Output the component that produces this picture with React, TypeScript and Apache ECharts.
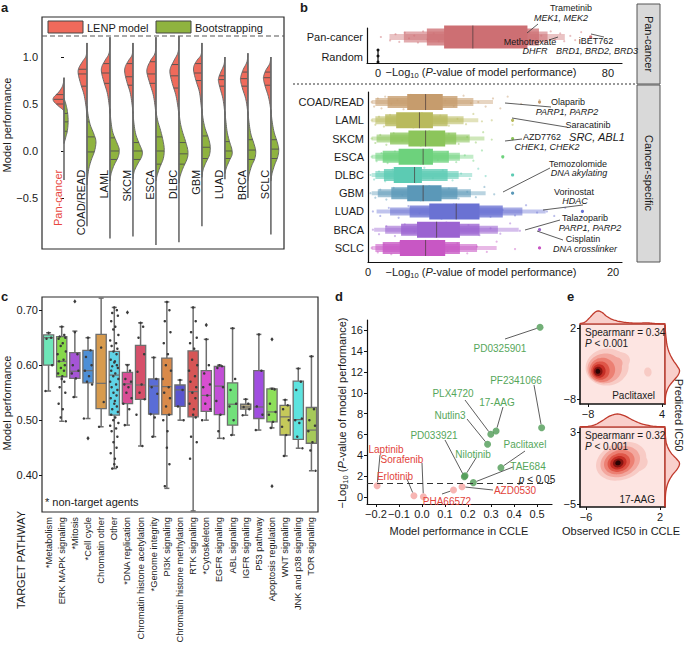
import React, { useEffect, useRef } from 'react';
import * as echarts from 'echarts';

const FONT = "'Liberation Sans', Arial, Helvetica, sans-serif";
const MINUS = '\u2212';
const fmt = (v: number, d: number) => (v < 0 ? MINUS : '') + Math.abs(v).toFixed(d);

// ================= Panel a: split violins =================
const aCategories = ['Pan-cancer', 'COAD/READ', 'LAML', 'SKCM', 'ESCA', 'DLBC', 'GBM', 'LUAD', 'BRCA', 'SCLC'];
// [value, half-width in category units]
const aLenpShape = [
  [[0.78, 0], [0.7, 0.05], [0.63, 0.22], [0.57, 0.45], [0.53, 0.45], [0.48, 0.25], [0.44, 0.05], [0.42, 0]],
  [[1.15, 0], [1.02, 0.03], [0.95, 0.2], [0.88, 0.36], [0.82, 0.38], [0.72, 0.28], [0.6, 0.13], [0.47, 0.04], [0.36, 0]],
  [[1.21, 0], [1.05, 0.03], [0.97, 0.2], [0.9, 0.35], [0.84, 0.37], [0.74, 0.27], [0.62, 0.12], [0.5, 0.04], [0.4, 0]],
  [[1.15, 0], [1.03, 0.03], [0.96, 0.2], [0.9, 0.33], [0.84, 0.36], [0.74, 0.27], [0.62, 0.12], [0.5, 0.04], [0.4, 0]],
  [[1.21, 0], [1.05, 0.03], [0.97, 0.22], [0.89, 0.37], [0.83, 0.39], [0.73, 0.28], [0.6, 0.12], [0.48, 0.04], [0.38, 0]],
  [[1.22, 0], [1.06, 0.03], [0.97, 0.2], [0.89, 0.36], [0.83, 0.39], [0.72, 0.29], [0.6, 0.14], [0.48, 0.05], [0.38, 0]],
  [[1.15, 0], [1.03, 0.03], [0.97, 0.2], [0.91, 0.34], [0.85, 0.36], [0.75, 0.26], [0.63, 0.11], [0.5, 0.04], [0.4, 0]],
  [[1.0, 0], [0.92, 0.04], [0.84, 0.18], [0.78, 0.27], [0.74, 0.28], [0.66, 0.2], [0.56, 0.09], [0.46, 0.03], [0.38, 0]],
  [[1.04, 0], [0.95, 0.04], [0.87, 0.2], [0.8, 0.3], [0.75, 0.32], [0.66, 0.23], [0.56, 0.1], [0.46, 0.03], [0.38, 0]],
  [[1.0, 0], [0.93, 0.05], [0.86, 0.22], [0.8, 0.31], [0.76, 0.32], [0.68, 0.24], [0.58, 0.11], [0.48, 0.03], [0.4, 0]],
];
const aBootShape = [
  [[0.56, 0], [0.5, 0.08], [0.42, 0.15], [0.32, 0.18], [0.22, 0.15], [0.14, 0.07], [0.08, 0]],
  [[0.48, 0], [0.38, 0.05], [0.28, 0.14], [0.18, 0.3], [0.1, 0.39], [0.0, 0.33], [-0.1, 0.18], [-0.2, 0.07], [-0.3, 0.02], [-0.36, 0]],
  [[0.45, 0], [0.32, 0.04], [0.2, 0.12], [0.1, 0.28], [0.02, 0.4], [-0.06, 0.36], [-0.15, 0.18], [-0.24, 0.05], [-0.32, 0]],
  [[0.42, 0], [0.3, 0.04], [0.18, 0.12], [0.08, 0.27], [0.0, 0.4], [-0.06, 0.38], [-0.14, 0.2], [-0.22, 0.05], [-0.3, 0]],
  [[0.42, 0], [0.32, 0.08], [0.22, 0.2], [0.12, 0.3], [0.02, 0.36], [-0.08, 0.32], [-0.18, 0.16], [-0.26, 0.05], [-0.32, 0]],
  [[0.42, 0], [0.3, 0.06], [0.2, 0.16], [0.1, 0.29], [0.0, 0.39], [-0.08, 0.36], [-0.18, 0.18], [-0.27, 0.05], [-0.34, 0]],
  [[0.45, 0], [0.34, 0.05], [0.24, 0.14], [0.14, 0.28], [0.05, 0.36], [-0.04, 0.33], [-0.12, 0.18], [-0.2, 0.05], [-0.28, 0]],
  [[0.42, 0], [0.32, 0.04], [0.2, 0.1], [0.1, 0.2], [0.02, 0.3], [-0.04, 0.31], [-0.1, 0.2], [-0.18, 0.06], [-0.24, 0]],
  [[0.42, 0], [0.3, 0.05], [0.18, 0.13], [0.08, 0.26], [0.0, 0.34], [-0.08, 0.3], [-0.16, 0.16], [-0.25, 0.05], [-0.32, 0]],
  [[0.44, 0], [0.32, 0.05], [0.2, 0.14], [0.1, 0.27], [0.02, 0.34], [-0.06, 0.3], [-0.15, 0.16], [-0.24, 0.05], [-0.32, 0]],
];
const aLenpQuartiles = [[0.6, 0.55, 0.5], [0.87, 0.82, 0.69], [0.93, 0.83, 0.72], [0.93, 0.79, 0.7], [0.95, 0.82, 0.72], [0.92, 0.8, 0.67], [0.93, 0.83, 0.75], [0.8, 0.76, 0.69], [0.84, 0.77, 0.69], [0.84, 0.78, 0.7]];
const aBootQuartiles = [[0.4, 0.31, 0.21], [0.31, 0.15, -0.01], [0.14, 0.0, -0.09], [0.09, 0.0, -0.09], [0.15, 0.0, -0.14], [0.09, -0.03, -0.14], [0.16, 0.04, -0.08], [0.1, 0.0, -0.08], [0.12, 0.01, -0.09], [0.12, 0.02, -0.08]];
const aLineRange = [[0.78, -0.31], [1.15, -0.8], [1.21, -0.93], [1.15, -0.91], [1.21, -1.0], [1.22, -0.97], [1.15, -0.8], [1.0, -0.3], [1.04, -0.5], [1.0, -0.89]];
const aTicks = [-0.5, 0, 0.5, 1.0];

// ================= Panel b: letter-value plots =================
const bTopRows = ['Pan-cancer', 'Random'];
const bPanBoxes = [[23, 52], [17, 56], [9, 59], [4, 65]];
const bPanMedian = 33;
const bPanPoints = [1.0, 4.2, 6.1, 7.4, 9.3, 10.8, 12.6, 13.9, 15.7, 17.2, 19.4, 21.1, 24.3, 27.6, 30.8, 35.2, 38.1, 42.4, 46.3, 49.8, 52.7, 54.9, 56.8, 58.3, 60.1, 61.7, 63.4, 64.8, 66.9, 68.6, 70.7, 74.0];
const bRandomPoints = [0, 0, 0];
const bTopTicks = [0, 80];

const bRows = ['COAD/READ', 'LAML', 'SKCM', 'ESCA', 'DLBC', 'GBM', 'LUAD', 'BRCA', 'SCLC'];
const bBoxes = [
  [[3.2, 6.1], [1.6, 7.3], [0.6, 8.6], [0.3, 10.2]],
  [[2.3, 5.3], [1.4, 6.5], [0.6, 7.8], [0.3, 9.0]],
  [[3.3, 6.3], [1.8, 7.2], [0.7, 8.3], [0.3, 9.5]],
  [[2.5, 5.3], [1.2, 6.6], [0.6, 7.5], [0.3, 8.6]],
  [[2.1, 4.4], [1.3, 6.5], [0.6, 7.4], [0.3, 8.5]],
  [[3.2, 6.0], [1.9, 7.3], [0.8, 8.4], [0.3, 9.6]],
  [[5.0, 9.1], [3.4, 11.0], [1.8, 12.6], [0.7, 14.5]],
  [[4.0, 7.5], [2.7, 9.1], [1.4, 10.6], [0.5, 12.3]],
  [[2.6, 6.3], [1.2, 7.5], [0.6, 8.9], [0.3, 10.5]],
];
const bMedians = [4.7, 4.2, 4.7, 4.5, 3.8, 4.5, 7.2, 5.6, 4.7];
const bPoints = [
  [0.3, 0.5, 0.8, 1.1, 1.4, 1.9, 2.4, 2.9, 3.5, 4.1, 4.8, 5.5, 6.3, 7.0, 7.8, 8.4, 9.0, 9.6, 10.2, 10.8, 11.4, 12.5, 14.0],
  [0.3, 0.6, 0.9, 1.3, 1.8, 2.4, 3.0, 3.7, 4.4, 5.1, 5.9, 6.6, 7.3, 8.0, 8.6, 9.3, 10.1, 11.8],
  [0.3, 0.6, 1.0, 1.5, 2.1, 2.8, 3.5, 4.3, 5.0, 5.8, 6.6, 7.4, 8.1, 8.8, 9.4, 10.1, 11.8],
  [0.3, 0.7, 1.1, 1.6, 2.2, 2.9, 3.6, 4.3, 5.0, 5.7, 6.5, 7.2, 7.9, 8.6, 9.3, 11.0],
  [0.2, 0.5, 0.9, 1.4, 2.0, 2.6, 3.2, 3.9, 4.6, 5.3, 6.1, 6.9, 7.6, 8.3, 9.0, 9.6, 11.8],
  [0.2, 0.6, 1.0, 1.5, 2.1, 2.8, 3.5, 4.3, 5.0, 5.8, 6.6, 7.4, 8.1, 8.8, 9.5, 10.3, 11.8],
  [0.4, 1.0, 1.7, 2.5, 3.3, 4.2, 5.1, 6.0, 7.0, 8.0, 9.0, 10.0, 11.0, 12.0, 12.9, 13.8, 14.6, 15.2, 16.1, 17.5],
  [0.4, 0.9, 1.5, 2.2, 3.0, 3.8, 4.6, 5.5, 6.4, 7.3, 8.2, 9.1, 10.0, 10.8, 11.6, 12.4, 14.0],
  [0.3, 0.8, 1.3, 1.9, 2.6, 3.3, 4.1, 4.9, 5.7, 6.5, 7.3, 8.1, 8.9, 9.7, 10.5, 12.0, 14.0],
];
const bBottomTicks = [0, 20];

// ================= Panel c: boxplots by pathway =================
const cPathways = ['*Metabolism', 'ERK MAPK signaling', '*Mitosis', '*Cell cycle', 'Chromatin other', 'Other', '*DNA replication',
  'Chromatin histone acetylation', '*Genome integrity', 'PI3K signaling', 'Chromatin histone methylation', 'RTK signaling',
  '*Cytoskeleton', 'EGFR signaling', 'ABL signaling', 'IGFR signaling', 'P53 pathway', 'Apoptosis regulation',
  'WNT signaling', 'JNK and p38 signaling', 'TOR signaling'];
// [min, q1, median, q3, max]
const cStats = [
  [0.553, 0.600, 0.650, 0.655, 0.659],
  [0.498, 0.579, 0.607, 0.652, 0.670],
  [0.542, 0.576, 0.589, 0.623, 0.662],
  [0.503, 0.568, 0.590, 0.627, 0.650],
  [0.488, 0.521, 0.567, 0.656, 0.722],
  [0.412, 0.509, 0.582, 0.625, 0.705],
  [0.491, 0.530, 0.566, 0.587, 0.601],
  [0.453, 0.538, 0.564, 0.636, 0.677],
  [0.470, 0.511, 0.562, 0.575, 0.614],
  [0.376, 0.510, 0.561, 0.613, 0.715],
  [0.500, 0.525, 0.555, 0.564, 0.573],
  [0.335, 0.506, 0.552, 0.626, 0.705],
  [0.500, 0.516, 0.545, 0.590, 0.647],
  [0.467, 0.510, 0.562, 0.598, 0.600],
  [0.473, 0.491, 0.529, 0.568, 0.667],
  [0.509, 0.520, 0.524, 0.529, 0.538],
  [0.482, 0.503, 0.524, 0.590, 0.656],
  [0.486, 0.497, 0.515, 0.557, 0.558],
  [0.435, 0.473, 0.506, 0.527, 0.537],
  [0.449, 0.465, 0.501, 0.571, 0.594],
  [0.408, 0.458, 0.482, 0.523, 0.616],
];
const cPoints = [
  [0.659, 0.65, 0.648, 0.6, 0.553],
  [0.67, 0.655, 0.652, 0.65, 0.648, 0.64, 0.635, 0.625, 0.62, 0.61, 0.607, 0.6, 0.595, 0.59, 0.585, 0.58, 0.575, 0.57, 0.56, 0.55, 0.53, 0.52, 0.505, 0.498],
  [0.66, 0.62, 0.6, 0.59, 0.585, 0.576, 0.542],
  [0.65, 0.627, 0.615, 0.6, 0.59, 0.58, 0.57, 0.565, 0.503],
  [0.632, 0.533, 0.488],
  [0.705, 0.7, 0.695, 0.69, 0.68, 0.67, 0.665, 0.655, 0.645, 0.64, 0.635, 0.63, 0.625, 0.62, 0.61, 0.607, 0.605, 0.6, 0.598, 0.595, 0.59, 0.585, 0.58, 0.575, 0.57, 0.565, 0.56, 0.555, 0.55, 0.545, 0.54, 0.535, 0.53, 0.525, 0.52, 0.515, 0.51, 0.505, 0.5, 0.495, 0.49, 0.485, 0.48, 0.47, 0.46, 0.45, 0.44, 0.43, 0.42, 0.415, 0.412],
  [0.6, 0.59, 0.575, 0.57, 0.565, 0.56, 0.55, 0.54, 0.53, 0.52, 0.491],
  [0.677, 0.67, 0.65, 0.62, 0.588, 0.565, 0.55, 0.538, 0.51, 0.453],
  [0.614, 0.575, 0.56, 0.548, 0.511, 0.505, 0.47],
  [0.715, 0.7, 0.68, 0.66, 0.64, 0.62, 0.6, 0.59, 0.575, 0.56, 0.55, 0.54, 0.525, 0.51, 0.5, 0.48, 0.45, 0.42, 0.38],
  [0.573, 0.555, 0.525, 0.5],
  [0.705, 0.68, 0.66, 0.65, 0.64, 0.63, 0.61, 0.6, 0.59, 0.58, 0.57, 0.56, 0.55, 0.54, 0.53, 0.52, 0.51, 0.505, 0.47, 0.46, 0.43],
  [0.647, 0.6, 0.585, 0.565, 0.56, 0.545, 0.53, 0.52, 0.5],
  [0.6, 0.598, 0.595, 0.56, 0.535, 0.51, 0.48, 0.467],
  [0.667, 0.575, 0.555, 0.53, 0.525, 0.5, 0.473],
  [0.538, 0.53, 0.524, 0.52, 0.509],
  [0.656, 0.59, 0.525, 0.51, 0.482],
  [0.557, 0.556, 0.53, 0.515, 0.51, 0.497, 0.486],
  [0.537, 0.527, 0.52, 0.5, 0.488, 0.473, 0.435],
  [0.594, 0.57, 0.555, 0.503, 0.5, 0.495, 0.47, 0.449],
  [0.616, 0.52, 0.5, 0.49, 0.48, 0.46, 0.445, 0.408],
];
const cOutliers = [[2, 0.716], [3, 0.467], [6, 0.696], [12, 0.673], [17, 0.647], [17, 0.38]];
const cTicks = [0.4, 0.5, 0.6, 0.7];

// ================= Panel d: CCLE validation scatter =================
const dDrugs = ['PD0325901', 'PF2341066', '17-AAG', 'PLX4720', 'Nutlin3', 'Paclitaxel', 'PD033921', 'Nilotinib', 'TAE684', 'Laptinib', 'Erlotinib', 'Sorafenib', 'PHA66572', 'AZD0530'];
const dPerf = [0.513, 0.52, 0.322, 0.299, 0.285, 0.343, 0.184, 0.187, 0.223, -0.195, -0.035, 0.006, 0.137, 0.174];
const dLogP = [16.3, 6.66, 6.34, 6.02, 5.06, 2.82, 1.95, 2.05, 1.38, 1.09, 0.13, 0.03, 0.67, 0.99];
const dThreshold = 1.3;
const dXTicks = [-0.2, -0.1, 0, 0.1, 0.2, 0.3, 0.4, 0.5];
const dYTicks = [0, 2, 4, 6, 8, 10, 12, 14, 16];

// ================= Panel e: density of observed vs predicted IC50 =================
// [level, cx, cy, rx, ry]
const eTopLevels = [
  [0, -4.9, -3.5, 3.5, 2.6], [0, -3.0, -2.6, 1.8, 1.2], [0, 1.7, -4.2, 0.6, 0.65],
  [1, -5.3, -3.7, 2.8, 2.1], [1, -3.6, -3.0, 1.2, 0.9],
  [2, -5.7, -3.9, 2.1, 1.7], [3, -6.0, -4.0, 1.5, 1.3], [4, -6.2, -4.05, 1.05, 0.95],
  [5, -6.35, -4.1, 0.7, 0.65], [6, -6.4, -4.1, 0.38, 0.36],
];
const eBotLevels = [
  [0, -2.2, -0.25, 2.8, 2.05], [0, -0.5, -0.5, 1.2, 0.9],
  [1, -2.3, -0.3, 2.2, 1.65], [2, -2.4, -0.35, 1.7, 1.3], [3, -2.45, -0.4, 1.25, 1.0],
  [4, -2.5, -0.42, 0.9, 0.72], [5, -2.52, -0.44, 0.58, 0.48], [6, -2.54, -0.44, 0.3, 0.26],
];
const eTopMarginalX = [[-9.3, 0.03], [-8.5, 0.15], [-7.8, 0.45], [-7.0, 0.85], [-6.4, 1.0], [-5.7, 0.88], [-5.0, 0.6], [-4.2, 0.38], [-3.4, 0.25], [-2.5, 0.16], [-1.5, 0.1], [-0.5, 0.07], [0.5, 0.07], [1.5, 0.09], [2.5, 0.05], [3.5, 0.02], [4.48, 0.01]];
const eTopMarginalY = [[0.01, 2.42], [0.03, 1.5], [0.08, 0.5], [0.15, -0.5], [0.3, -1.5], [0.55, -2.5], [0.85, -3.4], [1.0, -4.0], [0.88, -4.7], [0.55, -5.5], [0.25, -6.3], [0.08, -7.2], [0.02, -8.0], [0.0, -8.7]];
const eBotMarginalX = [[-6.65, 0.01], [-5.8, 0.05], [-5.0, 0.18], [-4.2, 0.5], [-3.4, 0.85], [-2.6, 1.0], [-1.8, 0.85], [-1.0, 0.55], [-0.2, 0.3], [0.6, 0.14], [1.4, 0.05], [2.54, 0.01]];
const eBotMarginalY = [[0.0, 3.44], [0.03, 2.5], [0.12, 1.6], [0.4, 0.7], [0.8, 0.0], [1.0, -0.5], [0.85, -1.1], [0.5, -1.8], [0.22, -2.6], [0.07, -3.5], [0.02, -4.4], [0.0, -5.33]];
const eTopXTicks = [-8, 4];
const eTopYTicks = [-8, 2];
const eBotXTicks = [-6, 2];
const eBotYTicks = [-5, 3];

// ================= styling =================
const RED = '#ef6a5b';
const GREEN = '#8fb33f';
const bPanColor = '#cd6f73';
const bColors = ['#c69c6d', '#b9ba5d', '#8cc55b', '#6dd27c', '#5ccbb3', '#5b98b8', '#6a72d3', '#9b63d1', '#c857c4'];
const cColors = ['#6ee6b8', '#86d94a', '#a555d6', '#4d8fd6', '#d79b4e', '#5fd3e6', '#d94e95', '#d6506a', '#5a6dd6', '#d98a4a', '#5a55d0', '#d65656', '#d84fd0', '#c24fd6', '#72e07a', '#b5a882', '#a04ee0', '#8ee05a', '#c5c95a', '#5de3df', '#a6c95a'];
const eLevelColors = ['#f8cbc5', '#f3a79e', '#ec8073', '#df5648', '#c52e25', '#851410', '#2a0404'];
const JIT = [0, 2.5, -2, 3.5, -3, 1, -1, 4, -4, 1.8, -2.6, 3, -0.8, 2.2, -3.5, 0.6];

function catmull(pts: number[][], seg = 5): number[][] {
  if (pts.length < 3) return pts;
  const out: number[][] = [];
  for (let i = 0; i < pts.length - 1; i++) {
    const p0 = pts[Math.max(0, i - 1)], p1 = pts[i], p2 = pts[i + 1], p3 = pts[Math.min(pts.length - 1, i + 2)];
    for (let t = 0; t < seg; t++) {
      const s = t / seg, s2 = s * s, s3 = s2 * s;
      out.push([0, 1].map(k => 0.5 * (2 * p1[k] + (-p0[k] + p2[k]) * s + (2 * p0[k] - 5 * p1[k] + 4 * p2[k] - p3[k]) * s2 + (-p0[k] + 3 * p1[k] - 3 * p2[k] + p3[k]) * s3)));
    }
  }
  out.push(pts[pts.length - 1]);
  return out;
}

function interpWidth(shape: number[][], v: number) {
  for (let j = 0; j < shape.length - 1; j++) {
    const [v1, w1] = shape[j], [v2, w2] = shape[j + 1];
    if (v <= v1 && v >= v2) return w1 + (w2 - w1) * (v1 - v) / (v1 - v2 || 1);
  }
  return 0;
}

function T(x: number, y: number, text: string, o: any = {}) {
  const align = o.align || 'left';
  const va = o.va || 'middle';
  return {
    type: 'text', x, y, rotation: o.rot || 0, silent: true, z: 100,
    style: {
      text, fill: o.color || '#1a1a1a', fontSize: o.size || 11, fontFamily: FONT,
      fontStyle: o.italic ? 'italic' : 'normal', fontWeight: o.bold ? 'bold' : 'normal',
      align, verticalAlign: va, textAlign: align, textVerticalAlign: va, rich: o.rich,
    },
  };
}
function L(x1: number, y1: number, x2: number, y2: number, o: any = {}) {
  return { type: 'line', silent: true, z: 99, shape: { x1, y1, x2, y2 }, style: { stroke: o.color || '#333', lineWidth: o.w || 0.8, lineDash: o.dash } };
}

const richLog = (size: number) => ({
  a: { fontSize: size, fontFamily: FONT, fill: '#1a1a1a' },
  s: { fontSize: size - 3.5, fontFamily: FONT, fill: '#1a1a1a', padding: [6, 0, 0, 0] },
  i: { fontSize: size, fontFamily: FONT, fontStyle: 'italic', fill: '#1a1a1a' },
});
const LOG_TEXT = `{a|${MINUS}Log}{s|10}{a| (}{i|P}{a|-value of model performance)}`;

function ellipsePts(api: any, cx: number, cy: number, rx: number, ry: number, rot = 0) {
  const c = api.coord([cx, cy]);
  const sx = api.size([rx, 0])[0];
  const sy = api.size([0, ry])[1];
  const pts: number[][] = [];
  for (let k = 0; k < 36; k++) {
    const t = (k / 36) * Math.PI * 2;
    const ex = sx * Math.cos(t), ey = sy * Math.sin(t);
    pts.push([c[0] + ex * Math.cos(rot) + ey * Math.sin(rot), c[1] - ex * Math.sin(rot) + ey * Math.cos(rot)]);
  }
  return pts;
}

function buildOption() {
  const gridBase = { outerBoundsMode: 'none', containLabel: false };
  const grids = [
    { ...gridBase, left: 42, top: 17, width: 242, height: 232, show: true, borderColor: '#2a2a2a', borderWidth: 1.2, backgroundColor: 'transparent' },
    { ...gridBase, left: 367, top: 28, width: 255, height: 35 },
    { ...gridBase, left: 368, top: 92, width: 254, height: 170 },
    { ...gridBase, left: 42, top: 297, width: 276, height: 215, show: true, borderColor: '#2a2a2a', borderWidth: 1.2, backgroundColor: 'transparent' },
    { ...gridBase, left: 367, top: 320, width: 185, height: 184 },
    { ...gridBase, left: 580, top: 325, width: 85, height: 79, show: true, backgroundColor: '#fde5e2', borderWidth: 0 },
    { ...gridBase, left: 580, top: 309, width: 85, height: 15 },
    { ...gridBase, left: 665, top: 325, width: 16, height: 79 },
    { ...gridBase, left: 580, top: 428, width: 85, height: 79, show: true, backgroundColor: '#fde5e2', borderWidth: 0 },
    { ...gridBase, left: 580, top: 412, width: 85, height: 15 },
    { ...gridBase, left: 665, top: 428, width: 16, height: 79 },
  ];
  const lbl = (vals: number[], f: (v: number) => string, extra: any = {}) => ({
    customValues: vals, formatter: f, fontSize: 11, color: '#1a1a1a', fontFamily: FONT, ...extra,
  });
  const hidden = (g: number, min: number, max: number, extra: any = {}) => ({
    gridIndex: g, type: 'value', min, max, axisLine: { show: false }, axisTick: { show: false }, axisLabel: { show: false }, splitLine: { show: false }, ...extra,
  });
  const valAxis = (g: number, min: number, max: number, ticks: number[], f: (v: number) => string, extra: any = {}) => ({
    gridIndex: g, type: 'value', min, max,
    axisLine: { show: true, onZero: false, lineStyle: { color: '#111', width: 1.2 } },
    axisTick: { show: true, customValues: ticks, length: 3, lineStyle: { color: '#111' } },
    axisLabel: lbl(ticks, f, { margin: 4 }),
    splitLine: { show: false },
    ...extra,
  });
  const margLine = { show: true, onZero: false, lineStyle: { color: '#a8281c', width: 1.6 } };

  const xAxis = [
    hidden(0, -0.957, 9.57),
    valAxis(1, -3.83, 84.9, bTopTicks, v => String(v), { axisTick: { show: false } }),
    valAxis(2, 0, 20.73, bBottomTicks, v => String(v), { axisTick: { show: false } }),
    {
      gridIndex: 3, type: 'category', data: cPathways, boundaryGap: true,
      axisLine: { show: false }, axisTick: { show: false }, splitLine: { show: false },
      axisLabel: { rotate: 90, interval: 0, fontSize: 9.3, color: '#1a1a1a', fontFamily: FONT, margin: 5 },
    },
    valAxis(4, -0.239, 0.565, dXTicks, v => fmt(v, 1)),
    valAxis(5, -9.3, 4.48, eTopXTicks, v => fmt(v, 0), { axisLine: { show: true, onZero: false, lineStyle: { color: '#111', width: 1.6 } } }),
    hidden(6, -9.3, 4.48, { axisLine: margLine }),
    hidden(7, 0, 1.1),
    valAxis(8, -6.65, 2.54, eBotXTicks, v => fmt(v, 0), { axisLine: { show: true, onZero: false, lineStyle: { color: '#111', width: 1.6 } } }),
    hidden(9, -6.65, 2.54, { axisLine: margLine }),
    hidden(10, 0, 1.1),
  ];
  const yAxis = [
    valAxis(0, -1.043, 1.426, aTicks, v => fmt(v, 1), { axisLine: { show: false } }),
    valAxis(1, -0.45, 1.3, [0, 1], v => bTopRows[v] || '', { inverse: true, axisTick: { show: false } }),
    valAxis(2, -0.55, 8.77, bRows.map((_, i) => i), v => bRows[v] || '', { inverse: true, axisTick: { show: false } }),
    valAxis(3, 0.333, 0.724, cTicks, v => v.toFixed(2), { axisLine: { show: false } }),
    valAxis(4, -0.67, 17.0, dYTicks, v => String(v)),
    valAxis(5, -8.7, 2.42, eTopYTicks, v => fmt(v, 0), { axisLine: { show: true, onZero: false, lineStyle: { color: '#111', width: 1.6 } } }),
    hidden(6, 0, 1.15),
    hidden(7, -8.7, 2.42, { axisLine: margLine }),
    valAxis(8, -5.33, 3.44, eBotYTicks, v => fmt(v, 0), { axisLine: { show: true, onZero: false, lineStyle: { color: '#111', width: 1.6 } } }),
    hidden(9, 0, 1.15),
    hidden(10, -5.33, 3.44, { axisLine: margLine }),
  ];

  const series: any[] = [];

  // ---- a: violins
  series.push({
    type: 'custom', xAxisIndex: 0, yAxisIndex: 0, clip: false, silent: true,
    data: aCategories.map((_, i) => [i, 0]),
    renderItem: (params: any, api: any) => {
      const i = api.value(0);
      const cx = api.coord([i, 0])[0];
      const children: any[] = [];
      const half = (shape: number[][], side: number, fill: string, quarts: number[]) => {
        let pts = shape.map(([v, w]) => api.coord([i + side * w, v]));
        pts = catmull(pts, 6).map(([x, y]) => [side < 0 ? Math.min(x, cx) : Math.max(x, cx), y]);
        children.push({ type: 'polygon', shape: { points: pts }, style: { fill, stroke: '#6a6a6a', lineWidth: 1 } });
        quarts.forEach(q => {
          const w = interpWidth(shape, q);
          const p1 = api.coord([i, q]);
          const p2 = api.coord([i + side * w, q]);
          children.push({ type: 'line', shape: { x1: p1[0], y1: p1[1], x2: p2[0], y2: p2[1] }, style: { stroke: '#505050', lineWidth: 0.9 } });
        });
      };
      half(aLenpShape[i], -1, RED, aLenpQuartiles[i]);
      half(aBootShape[i], 1, GREEN, aBootQuartiles[i]);
      const t = api.coord([i, aLineRange[i][0]]);
      const b = api.coord([i, aLineRange[i][1]]);
      children.push({ type: 'line', shape: { x1: t[0], y1: t[1], x2: b[0], y2: b[1] }, style: { stroke: '#6a6a6a', lineWidth: 1.6 } });
      const lp = api.coord([i, -0.2]);
      children.push({
        type: 'text', x: lp[0] - 6, y: lp[1], rotation: Math.PI / 2,
        style: { text: aCategories[i], fill: i === 0 ? '#e8463d' : '#1a1a1a', fontSize: 11, fontFamily: FONT, align: 'right', verticalAlign: 'middle', textAlign: 'right', textVerticalAlign: 'middle' },
      });
      return { type: 'group', children };
    },
  });

  // ---- b top: pan-cancer & random
  const boxen = (api: any, row: number, boxes: number[][], median: number, pts: number[], color: string, H: number[], spread: number) => {
    const children: any[] = [];
    pts.forEach((v, j) => {
      const p = api.coord([v, row]);
      children.push({ type: 'circle', shape: { cx: p[0], cy: p[1] + JIT[j % JIT.length] * spread, r: 1.1 }, style: { fill: color, opacity: 0.45 } });
    });
    const ops = [1, 0.78, 0.58, 0.42];
    for (let k = boxes.length - 1; k >= 0; k--) {
      const p1 = api.coord([boxes[k][0], row]);
      const p2 = api.coord([boxes[k][1], row]);
      children.push({ type: 'rect', shape: { x: p1[0], y: p1[1] - H[k] / 2, width: p2[0] - p1[0], height: H[k] }, style: { fill: color, opacity: ops[k] } });
    }
    const m = api.coord([median, row]);
    children.push({ type: 'line', shape: { x1: m[0], y1: m[1] - H[0] / 2, x2: m[0], y2: m[1] + H[0] / 2 }, style: { stroke: '#4a3a3a', lineWidth: 0.9, opacity: 0.8 } });
    const last = pts[pts.length - 1];
    const o = api.coord([last, row]);
    children.push({ type: 'circle', shape: { cx: o[0], cy: o[1], r: 1.6 }, style: { fill: color } });
    return children;
  };
  series.push({
    type: 'custom', xAxisIndex: 1, yAxisIndex: 1, clip: false, silent: true,
    data: [[0, 0]],
    renderItem: (params: any, api: any) => {
      const children = boxen(api, 0, bPanBoxes, bPanMedian, bPanPoints, bPanColor, [23, 17, 11, 6], 1.4);
      bRandomPoints.forEach((v, j) => {
        const p = api.coord([v, 1]);
        if (j === 0) children.push({ type: 'line', shape: { x1: p[0], y1: p[1] - 7, x2: p[0], y2: p[1] + 6 }, style: { stroke: '#111', lineWidth: 1.2 } });
        children.push({ type: 'circle', shape: { cx: p[0], cy: p[1] + [-7, -1, 5][j], r: 1.5 }, style: { fill: '#111' } });
      });
      return { type: 'group', children };
    },
  });

  // ---- b bottom: cancer-specific
  series.push({
    type: 'custom', xAxisIndex: 2, yAxisIndex: 2, clip: false, silent: true,
    data: bRows.map((_, i) => [0, i]),
    renderItem: (params: any, api: any) => {
      const i = api.value(1);
      return { type: 'group', children: boxen(api, i, bBoxes[i], bMedians[i], bPoints[i], bColors[i], [16, 12, 8, 4], 1.8) };
    },
  });

  // ---- c: box plots
  series.push({
    type: 'custom', xAxisIndex: 3, yAxisIndex: 3, clip: false, silent: true,
    data: cPathways.map((_, i) => [i, cStats[i][2]]),
    renderItem: (params: any, api: any) => {
      const i = api.value(0);
      const [mn, q1, md, q3, mx] = cStats[i];
      const bw = api.size([1, 0])[0] * 0.78;
      const x = api.coord([i, md])[0];
      const y = (v: number) => api.coord([i, v])[1];
      const st = { stroke: '#6e6e6e', lineWidth: 1.5 };
      const ch: any[] = [
        { type: 'line', shape: { x1: x, y1: y(mx), x2: x, y2: y(q3) }, style: st },
        { type: 'line', shape: { x1: x, y1: y(q1), x2: x, y2: y(mn) }, style: st },
        { type: 'line', shape: { x1: x - 2.5, y1: y(mx), x2: x + 2.5, y2: y(mx) }, style: st },
        { type: 'line', shape: { x1: x - 2.5, y1: y(mn), x2: x + 2.5, y2: y(mn) }, style: st },
        { type: 'rect', shape: { x: x - bw / 2, y: y(q3), width: bw, height: y(q1) - y(q3) }, style: { fill: cColors[i], stroke: '#6e6e6e', lineWidth: 1.3 } },
        { type: 'line', shape: { x1: x - bw / 2, y1: y(md), x2: x + bw / 2, y2: y(md) }, style: { stroke: '#6e6e6e', lineWidth: 1.2 } },
      ];
      cPoints[i].forEach((v, j) => {
        ch.push({ type: 'circle', shape: { cx: x + JIT[j % JIT.length] * bw / 10, cy: y(v), r: 1.25 }, style: { fill: '#3b3b3b' } });
      });
      cOutliers.filter(o => o[0] === i).forEach(o => {
        const yy = y(o[1]);
        ch.push({ type: 'polygon', shape: { points: [[x, yy - 2.2], [x + 1.6, yy], [x, yy + 2.2], [x - 1.6, yy]] }, style: { fill: '#3b3b3b' } });
      });
      return { type: 'group', children: ch };
    },
  });

  // ---- d: scatter
  const dSig = dDrugs.map((_, i) => i).filter(i => dLogP[i] > dThreshold);
  const dNon = dDrugs.map((_, i) => i).filter(i => dLogP[i] <= dThreshold);
  series.push({
    type: 'scatter', xAxisIndex: 4, yAxisIndex: 4, symbolSize: 7, silent: true,
    itemStyle: { color: '#4f9b55' },
    data: dSig.map(i => [dPerf[i], dLogP[i]]),
    markLine: {
      silent: true, symbol: ['none', 'none'], label: { show: false },
      lineStyle: { type: [6, 4], color: '#333', width: 1 },
      data: [{ yAxis: dThreshold }],
    },
  });
  series.push({
    type: 'scatter', xAxisIndex: 4, yAxisIndex: 4, symbolSize: 7, silent: true,
    itemStyle: { color: '#f5a3a0' },
    data: dNon.map(i => [dPerf[i], dLogP[i]]),
  });
  // label anchors (pixels): [textX, textY, lineStartX, lineStartY]
  const dLabelLayout = [
    [500, 348, 505, 339], [516, 380, 534, 385], [497, 402, 503, 407], [453, 393, 465, 400], [450, 415, 467, 419],
    [525, 444, 525, 451], [434, 435, 445, 440], [473, 454, 476, 458], [528, 466, 513, 467],
    [386, 449, 380, 455], [395, 476, 407, 479], [402, 459, 422, 463], [447, 501, 442, 494], [515, 490, 493, 490],
  ];
  series.push({
    type: 'custom', xAxisIndex: 4, yAxisIndex: 4, clip: false, silent: true, z: 5,
    data: dDrugs.map((_, i) => [dPerf[i], dLogP[i], i]),
    renderItem: (params: any, api: any) => {
      const i = api.value(2);
      const p = api.coord([api.value(0), api.value(1)]);
      const [tx, ty, lx, ly] = dLabelLayout[i];
      const dx = lx - p[0], dy = ly - p[1];
      const len = Math.sqrt(dx * dx + dy * dy) || 1;
      const sig = dLogP[i] > dThreshold;
      return {
        type: 'group', children: [
          { type: 'line', shape: { x1: lx, y1: ly, x2: p[0] + dx / len * 3.5, y2: p[1] + dy / len * 3.5 }, style: { stroke: '#333', lineWidth: 0.8 } },
          { type: 'text', x: tx, y: ty, style: { text: dDrugs[i], fill: sig ? '#55a65a' : '#e2443c', fontSize: 10, fontFamily: FONT, align: 'center', verticalAlign: 'middle', textAlign: 'center', textVerticalAlign: 'middle' } },
        ],
      };
    },
  });

  // ---- e: densities
  const contour = (xi: number, levels: number[][], rot: number) => ({
    type: 'custom', xAxisIndex: xi, yAxisIndex: xi, clip: true, silent: true,
    data: [[levels[0][1], levels[0][2]]],
    renderItem: (params: any, api: any) => ({
      type: 'group',
      children: levels.slice().sort((a, b) => a[0] - b[0]).map(([lv, cx, cy, rx, ry]) => ({
        type: 'polygon', shape: { points: ellipsePts(api, cx, cy, rx, ry, rot), smooth: 0.3 },
        style: { fill: eLevelColors[lv] },
      })),
    }),
  });
  const marginal = (xi: number, pts: number[][], horizontal: boolean, lo: number, hi: number) => ({
    type: 'custom', xAxisIndex: xi, yAxisIndex: xi, clip: false, silent: true,
    data: [horizontal ? [pts[0][0], 0] : [0, pts[0][1]]],
    renderItem: (params: any, api: any) => {
      const curve = catmull(pts.map(p => api.coord(p)), 5);
      const base = horizontal ? [api.coord([hi, 0]), api.coord([lo, 0])] : [api.coord([0, hi]), api.coord([0, lo])];
      const poly = horizontal ? curve.concat(base) : curve.concat([api.coord([0, pts[pts.length - 1][1]]), api.coord([0, pts[0][1]])]);
      return {
        type: 'group', children: [
          { type: 'polygon', shape: { points: poly }, style: { fill: 'rgba(238,130,118,0.38)' } },
          { type: 'polyline', shape: { points: curve }, style: { stroke: '#c0392b', lineWidth: 1.3, fill: 'none' } },
        ],
      };
    },
  });
  series.push(contour(5, eTopLevels, 0.12));
  series.push(marginal(6, eTopMarginalX, true, -9.3, 4.48));
  series.push(marginal(7, eTopMarginalY, false, -8.7, 2.42));
  series.push(contour(8, eBotLevels, 0.35));
  series.push(marginal(9, eBotMarginalX, true, -6.65, 2.54));
  series.push(marginal(10, eBotMarginalY, false, -5.33, 3.44));

  // ---- graphic annotations
  const g: any[] = [];
  // panel letters
  g.push(T(1, 7, 'a', { bold: true, size: 13 }), T(300, 7, 'b', { bold: true, size: 13 }), T(1, 296, 'c', { bold: true, size: 13 }),
    T(335, 296, 'd', { bold: true, size: 13 }), T(567, 296, 'e', { bold: true, size: 13 }));
  // a legend
  g.push({ type: 'rect', shape: { x: 48, y: 21, width: 35, height: 12 }, style: { fill: RED, stroke: '#444', lineWidth: 1 } });
  g.push(T(87, 27.5, 'LENP model'));
  g.push({ type: 'rect', shape: { x: 156, y: 21, width: 35, height: 12 }, style: { fill: GREEN, stroke: '#444', lineWidth: 1 } });
  g.push(T(195, 27.5, 'Bootstrapping'));
  g.push(L(42, 36, 284, 36, { color: '#555', w: 1.2, dash: [5, 3] }));
  g.push(T(7, 125, 'Model performance', { rot: Math.PI / 2, align: 'center' }));
  // b
  g.push({ type: 'rect', shape: { x: 637, y: 4, width: 23, height: 80 }, style: { fill: '#d9d9d9', stroke: '#555', lineWidth: 1 } });
  g.push({ type: 'rect', shape: { x: 637, y: 85, width: 23, height: 177 }, style: { fill: '#d9d9d9', stroke: '#555', lineWidth: 1 } });
  g.push(T(648.5, 44, 'Pan-cancer', { rot: -Math.PI / 2, align: 'center' }));
  g.push(T(648.5, 173, 'Cancer-specific', { rot: -Math.PI / 2, align: 'center' }));
  g.push(L(293, 84, 637, 84, { color: '#333', w: 1, dash: [2, 2] }));
  g.push(T(481, 72, LOG_TEXT, { align: 'center', rich: richLog(11) }));
  g.push(T(481, 272, LOG_TEXT, { align: 'center', rich: richLog(11) }));
  const ann = (x: number, y: number, name: string, gene: string, gx: number, gy: number, line: number[], geneSize = 9) => {
    g.push(T(x, y, name, { align: 'center', size: 9 }));
    g.push(T(gx, gy, gene, { align: 'center', size: geneSize, italic: true }));
    g.push(L(line[0], line[1], line[2], line[3]));
  };
  ann(571, 8, 'Trametinib', 'MEK1, MEK2', 561, 18, [527, 33, 538, 24]);
  ann(530, 42, 'Methotrexate', 'DHFR', 535, 51, [549, 40, 558, 37]);
  ann(596, 41, 'iBET762', 'BRD1, BRD2, BRD3', 597, 51, [591, 34, 604, 37]);
  ann(568, 102, 'Olaparib', 'PARP1, PARP2', 567, 112, [505, 103, 551, 107]);
  ann(588, 125, 'Saracatinib', 'SRC, ABL1', 597, 136.5, [512, 118, 566, 127], 11);
  ann(542, 137, 'AZD7762', 'CHEK1, CHEK2', 547, 146.5, [505, 141, 522, 139]);
  ann(578, 164, 'Temozolomide', 'DNA akylating', 579, 173, [503, 192, 550, 168]);
  ann(574, 192, 'Vorinostat', 'HDAC', 575, 201, [543, 210, 583, 205]);
  ann(585, 218, 'Talazoparib', 'PARP1, PARP2', 590, 228, [525, 230, 560, 220]);
  ann(583, 239, 'Cisplatin', 'DNA crosslinker', 585, 249, [537, 231, 563, 240]);
  // c
  g.push(T(7, 403, 'Model performance', { rot: Math.PI / 2, align: 'center' }));
  g.push(T(21, 560, 'TARGET PATHWAY', { rot: Math.PI / 2, align: 'center' }));
  g.push(T(45, 502, '* non-target agents'));
  // d
  g.push(T(342, 413, LOG_TEXT, { rot: Math.PI / 2, align: 'center', rich: richLog(11) }));
  g.push(T(459, 531, 'Model performance in CCLE', { align: 'center' }));
  g.push(T(537, 479, '{i|p}{a| < 0.05}', { align: 'center', rich: richLog(10) }));
  // e
  g.push(T(585, 332, 'Spearmanr = 0.34', { size: 10 }));
  g.push(T(585, 343, '{i|P}{a| < 0.001}', { rich: richLog(10) }));
  g.push(T(655, 395, 'Paclitaxel', { size: 10, align: 'right' }));
  g.push(T(585, 435, 'Spearmanr = 0.32', { size: 10 }));
  g.push(T(585, 446, '{i|P}{a| < 0.001}', { rich: richLog(10) }));
  g.push(T(655, 499, '17-AAG', { size: 10, align: 'right' }));
  g.push(T(679, 415, 'Predicted IC50', { rot: -Math.PI / 2, align: 'center' }));
  g.push(T(621, 531, 'Observed IC50 in CCLE', { align: 'center' }));

  return {
    animation: false,
    backgroundColor: '#ffffff',
    textStyle: { fontFamily: FONT },
    grid: grids,
    xAxis,
    yAxis,
    series,
    graphic: g,
  };
}

export default function App() {
  const ref = useRef<HTMLDivElement>(null);
  useEffect(() => {
    document.body.style.margin = '0';
    if (!ref.current) return;
    const chart = echarts.init(ref.current, null, { renderer: 'svg' });
    chart.setOption(buildOption() as any);
    return () => chart.dispose();
  }, []);
  return <div ref={ref} style={{ width: 685, height: 648 }} />;
}
